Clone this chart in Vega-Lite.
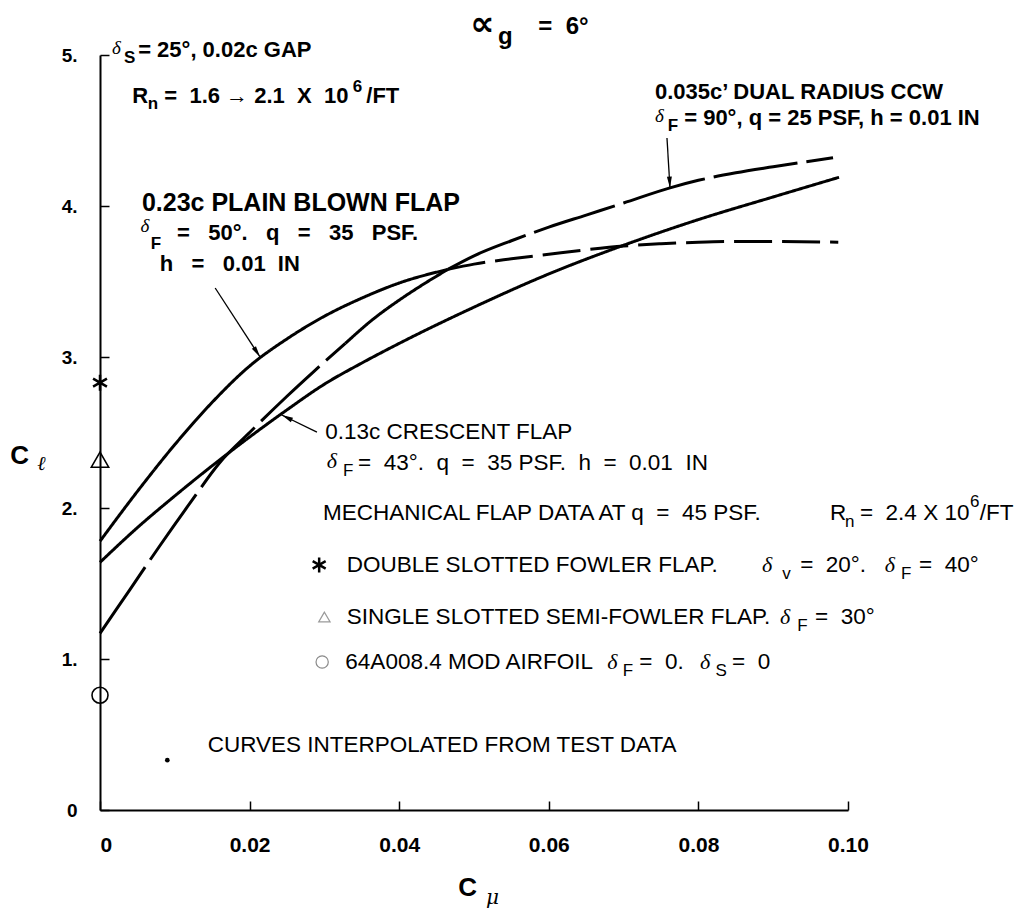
{
  "$schema": "https://vega.github.io/schema/vega-lite/v6.json",
  "width": 748,
  "height": 755,
  "autosize": "none",
  "padding": {"left": 100, "top": 55, "right": 177, "bottom": 99},
  "background": "white",
  "config": {"view": {"stroke": null}},
  "datasets": {
    "curves": [
      {"curve": "plain_solid", "cmu": 0, "cl": 1.78},
      {"curve": "plain_solid", "cmu": 0.005, "cl": 2.11},
      {"curve": "plain_solid", "cmu": 0.01, "cl": 2.42},
      {"curve": "plain_solid", "cmu": 0.015, "cl": 2.70},
      {"curve": "plain_solid", "cmu": 0.02, "cl": 2.94},
      {"curve": "plain_solid", "cmu": 0.025, "cl": 3.12},
      {"curve": "plain_solid", "cmu": 0.03, "cl": 3.27},
      {"curve": "plain_solid", "cmu": 0.035, "cl": 3.39},
      {"curve": "plain_solid", "cmu": 0.04, "cl": 3.49},
      {"curve": "plain_solid", "cmu": 0.0465, "cl": 3.58},
      {"curve": "plain_dash", "cmu": 0.0465, "cl": 3.58},
      {"curve": "plain_dash", "cmu": 0.05, "cl": 3.615},
      {"curve": "plain_dash", "cmu": 0.055, "cl": 3.65},
      {"curve": "plain_dash", "cmu": 0.06, "cl": 3.68},
      {"curve": "plain_dash", "cmu": 0.065, "cl": 3.71},
      {"curve": "plain_dash", "cmu": 0.07, "cl": 3.735},
      {"curve": "plain_dash", "cmu": 0.075, "cl": 3.75},
      {"curve": "plain_dash", "cmu": 0.08, "cl": 3.76},
      {"curve": "plain_dash", "cmu": 0.085, "cl": 3.765},
      {"curve": "plain_dash", "cmu": 0.09, "cl": 3.765},
      {"curve": "plain_dash", "cmu": 0.0987, "cl": 3.76},
      {"curve": "crescent", "cmu": 0, "cl": 1.64},
      {"curve": "crescent", "cmu": 0.005, "cl": 1.87},
      {"curve": "crescent", "cmu": 0.01, "cl": 2.08},
      {"curve": "crescent", "cmu": 0.015, "cl": 2.28},
      {"curve": "crescent", "cmu": 0.02, "cl": 2.47},
      {"curve": "crescent", "cmu": 0.025, "cl": 2.65},
      {"curve": "crescent", "cmu": 0.03, "cl": 2.82},
      {"curve": "crescent", "cmu": 0.035, "cl": 2.96},
      {"curve": "crescent", "cmu": 0.04, "cl": 3.09},
      {"curve": "crescent", "cmu": 0.05, "cl": 3.33},
      {"curve": "crescent", "cmu": 0.06, "cl": 3.55},
      {"curve": "crescent", "cmu": 0.07, "cl": 3.74},
      {"curve": "crescent", "cmu": 0.08, "cl": 3.91},
      {"curve": "crescent", "cmu": 0.09, "cl": 4.06},
      {"curve": "crescent", "cmu": 0.0988, "cl": 4.19},
      {"curve": "dual_low", "cmu": 0, "cl": 1.17},
      {"curve": "dual_low", "cmu": 0.004, "cl": 1.46},
      {"curve": "dual_low", "cmu": 0.008, "cl": 1.75},
      {"curve": "dual_low", "cmu": 0.012, "cl": 2.03},
      {"curve": "dual_low", "cmu": 0.016, "cl": 2.30},
      {"curve": "dual_low", "cmu": 0.02, "cl": 2.50},
      {"curve": "dual_low", "cmu": 0.025, "cl": 2.74},
      {"curve": "dual_low", "cmu": 0.0285, "cl": 2.90},
      {"curve": "dual_low", "cmu": 0.0328, "cl": 3.09},
      {"curve": "dual_mid", "cmu": 0.0328, "cl": 3.09},
      {"curve": "dual_mid", "cmu": 0.0365, "cl": 3.25},
      {"curve": "dual_mid", "cmu": 0.0401, "cl": 3.38},
      {"curve": "dual_mid", "cmu": 0.0435, "cl": 3.49},
      {"curve": "dual_mid", "cmu": 0.0465, "cl": 3.58},
      {"curve": "dual_high", "cmu": 0.0465, "cl": 3.58},
      {"curve": "dual_high", "cmu": 0.05, "cl": 3.67},
      {"curve": "dual_high", "cmu": 0.055, "cl": 3.77},
      {"curve": "dual_high", "cmu": 0.06, "cl": 3.86},
      {"curve": "dual_high", "cmu": 0.065, "cl": 3.94},
      {"curve": "dual_high", "cmu": 0.07, "cl": 4.02},
      {"curve": "dual_high", "cmu": 0.0762, "cl": 4.12},
      {"curve": "dual_high", "cmu": 0.08, "cl": 4.17},
      {"curve": "dual_high", "cmu": 0.085, "cl": 4.22},
      {"curve": "dual_high", "cmu": 0.09, "cl": 4.26},
      {"curve": "dual_high", "cmu": 0.098, "cl": 4.32}
    ],
    "markers": [
      {"kind": "double_slotted", "cmu": 0, "cl": 2.83},
      {"kind": "single_slotted", "cmu": 0, "cl": 2.32},
      {"kind": "airfoil", "cmu": 0, "cl": 0.76},
      {"kind": "key_double", "cmu": 0.0293, "cl": 1.623},
      {"kind": "key_single", "cmu": 0.0300, "cl": 1.278},
      {"kind": "key_airfoil", "cmu": 0.0297, "cl": 0.98},
      {"kind": "key_interp", "cmu": 0.009, "cl": 0.33}
    ],
    "pointers": [
      {"id": "blown", "seq": 1, "cmu": 0.0154, "cl": 3.457},
      {"id": "blown", "seq": 2, "cmu": 0.0214, "cl": 3.0},
      {"id": "crescent", "seq": 1, "cmu": 0.029, "cl": 2.503},
      {"id": "crescent", "seq": 2, "cmu": 0.0243, "cl": 2.616},
      {"id": "dual", "seq": 1, "cmu": 0.0758, "cl": 4.45},
      {"id": "dual", "seq": 2, "cmu": 0.0762, "cl": 4.119}
    ],
    "labels": [
      {"role": "title", "cmu": 0.0495, "cl": 5.199, "text": "∝"},
      {"role": "title_sub", "cmu": 0.0532, "cl": 5.12, "text": "g"},
      {"role": "title_sub", "cmu": 0.0586, "cl": 5.185, "text": "=\u00a0\u00a06°"},
      {"role": "greek_head", "cmu": 0.0016, "cl": 5.046, "text": "δ"},
      {"role": "head_sub", "cmu": 0.0032, "cl": 4.98, "text": "S"},
      {"role": "head", "cmu": 0.0051, "cl": 5.033, "text": "= 25°, 0.02c GAP"},
      {"role": "head", "cmu": 0.0043, "cl": 4.728, "text": "R"},
      {"role": "head_sub", "cmu": 0.0064, "cl": 4.675, "text": "n"},
      {"role": "head", "cmu": 0.0086, "cl": 4.728, "text": "=\u00a0\u00a01.6\u00a0→\u00a02.1\u00a0\u00a0X\u00a0\u00a010"},
      {"role": "head_sub", "cmu": 0.0338, "cl": 4.79, "text": "6"},
      {"role": "head", "cmu": 0.0356, "cl": 4.728, "text": "/FT"},
      {"role": "head_dual", "cmu": 0.0742, "cl": 4.755, "text": "0.035c’ DUAL RADIUS CCW"},
      {"role": "greek_head", "cmu": 0.0742, "cl": 4.596, "text": "δ"},
      {"role": "head_sub", "cmu": 0.0759, "cl": 4.53, "text": "F"},
      {"role": "head_dual", "cmu": 0.0781, "cl": 4.583, "text": "= 90°, q = 25 PSF, h = 0.01 IN"},
      {"role": "head_big", "cmu": 0.0056, "cl": 4.02, "text": "0.23c PLAIN BLOWN FLAP"},
      {"role": "greek_head", "cmu": 0.0054, "cl": 3.868, "text": "δ"},
      {"role": "head_sub", "cmu": 0.0068, "cl": 3.748, "text": "F"},
      {"role": "head_blown", "cmu": 0.0103, "cl": 3.821, "text": "=\u00a0\u00a0\u00a050°.\u00a0\u00a0\u00a0q\u00a0\u00a0\u00a0=\u00a0\u00a0\u00a035\u00a0\u00a0\u00a0PSF."},
      {"role": "head_blown", "cmu": 0.008, "cl": 3.616, "text": "h\u00a0\u00a0\u00a0=\u00a0\u00a0\u00a00.01\u00a0\u00a0IN"},
      {"role": "body", "cmu": 0.0301, "cl": 2.503, "text": "0.13c CRESCENT FLAP"},
      {"role": "greek", "cmu": 0.0303, "cl": 2.311, "text": "δ"},
      {"role": "body_sub", "cmu": 0.0325, "cl": 2.245, "text": "F"},
      {"role": "body", "cmu": 0.0345, "cl": 2.298, "text": "=\u00a0\u00a043°.\u00a0\u00a0q\u00a0\u00a0=\u00a0\u00a035 PSF.\u00a0\u00a0h\u00a0\u00a0=\u00a0\u00a00.01\u00a0\u00a0IN"},
      {"role": "body", "cmu": 0.0298, "cl": 1.967, "text": "MECHANICAL FLAP DATA AT q\u00a0\u00a0=\u00a0\u00a045 PSF."},
      {"role": "body", "cmu": 0.0976, "cl": 1.967, "text": "R"},
      {"role": "body_sub", "cmu": 0.0996, "cl": 1.907, "text": "n"},
      {"role": "body", "cmu": 0.1016, "cl": 1.967, "text": "=\u00a0\u00a02.4 X 10"},
      {"role": "body_sub", "cmu": 0.1163, "cl": 2.04, "text": "6"},
      {"role": "body", "cmu": 0.1176, "cl": 1.967, "text": "/FT"},
      {"role": "body", "cmu": 0.033, "cl": 1.623, "text": "DOUBLE SLOTTED FOWLER FLAP."},
      {"role": "greek", "cmu": 0.0885, "cl": 1.623, "text": "δ"},
      {"role": "body_sub", "cmu": 0.0912, "cl": 1.563, "text": "v"},
      {"role": "body", "cmu": 0.0936, "cl": 1.623, "text": "=\u00a0\u00a020°."},
      {"role": "greek", "cmu": 0.1049, "cl": 1.623, "text": "δ"},
      {"role": "body_sub", "cmu": 0.1071, "cl": 1.563, "text": "F"},
      {"role": "body", "cmu": 0.1095, "cl": 1.623, "text": "=\u00a0\u00a040°"},
      {"role": "body", "cmu": 0.033, "cl": 1.278, "text": "SINGLE SLOTTED SEMI-FOWLER FLAP."},
      {"role": "greek", "cmu": 0.0909, "cl": 1.278, "text": "δ"},
      {"role": "body_sub", "cmu": 0.0932, "cl": 1.219, "text": "F"},
      {"role": "body", "cmu": 0.0956, "cl": 1.278, "text": "=\u00a0\u00a030°"},
      {"role": "body", "cmu": 0.0328, "cl": 0.98, "text": "64A008.4 MOD AIRFOIL"},
      {"role": "greek", "cmu": 0.0678, "cl": 0.98, "text": "δ"},
      {"role": "body_sub", "cmu": 0.0699, "cl": 0.921, "text": "F"},
      {"role": "body", "cmu": 0.0721, "cl": 0.98, "text": "=\u00a0\u00a00."},
      {"role": "greek", "cmu": 0.0802, "cl": 0.98, "text": "δ"},
      {"role": "body_sub", "cmu": 0.0823, "cl": 0.921, "text": "S"},
      {"role": "body", "cmu": 0.0845, "cl": 0.98, "text": "=\u00a0\u00a00"},
      {"role": "body", "cmu": 0.0144, "cl": 0.43, "text": "CURVES INTERPOLATED FROM TEST DATA"},
      {"role": "axis_big", "cmu": -0.012, "cl": 2.344, "text": "C"},
      {"role": "axis_sub", "cmu": -0.0084, "cl": 2.291, "text": "ℓ"},
      {"role": "axis_big", "cmu": 0.0479, "cl": -0.517, "text": "C"},
      {"role": "axis_sub", "cmu": 0.0516, "cl": -0.585, "text": "μ"}
    ]
  },
  "layer": [
    {
      "data": {"name": "curves"},
      "mark": {"type": "line", "color": "black", "strokeWidth": 3, "interpolate": "monotone", "strokeCap": "butt"},
      "encoding": {
        "x": {"field": "cmu", "type": "quantitative",
          "scale": {"domain": [0, 0.1], "nice": false, "zero": false},
          "axis": {"values": [0, 0.02, 0.04, 0.06, 0.08, 0.1], "title": null, "grid": false,
            "tickSize": -9, "tickColor": "black", "tickWidth": 1.5,
            "domainColor": "black", "domainWidth": 2, "labelPadding": 33,
            "labelFont": "Liberation Sans", "labelFontWeight": "bold", "labelFontSize": 21, "labelColor": "black",
            "labelFlush": false, "labelOverlap": false,
            "labelAlign": {"condition": {"test": "datum.value == 0", "value": "left"}, "value": "center"},
            "labelExpr": "datum.value == 0 ? '0' : format(datum.value, '.2f')"}},
        "y": {"field": "cl", "type": "quantitative",
          "scale": {"domain": [0, 5], "nice": false, "zero": false},
          "axis": {"values": [0, 1, 2, 3, 4, 5], "title": null, "grid": false,
            "tickSize": -9, "tickColor": "black", "tickWidth": 1.5,
            "domainColor": "black", "domainWidth": 2, "labelPadding": 32,
            "labelFont": "Liberation Sans", "labelFontWeight": "bold", "labelFontSize": 19, "labelColor": "black",
            "labelOverlap": false,
            "labelExpr": "datum.value == 0 ? '0' : datum.value + '.'"}},
        "detail": {"field": "curve"},
        "order": {"field": "cmu", "type": "quantitative"},
        "strokeDash": {"field": "curve", "type": "nominal", "legend": null,
          "scale": {"domain": ["plain_solid", "plain_dash", "crescent", "dual_low", "dual_mid", "dual_high"],
                    "range": [[1, 0], [38, 10], [1, 0], [80, 9], [1, 0], [85, 9]]}}
      }
    },
    {
      "data": {"name": "pointers"},
      "mark": {"type": "line", "color": "black", "strokeWidth": 1.3},
      "encoding": {
        "x": {"field": "cmu", "type": "quantitative"},
        "y": {"field": "cl", "type": "quantitative"},
        "detail": {"field": "id"},
        "order": {"field": "seq", "type": "quantitative"}
      }
    },
    {
      "data": {"name": "pointers"},
      "transform": [{"filter": "datum.id == 'blown' && datum.seq == 2"}],
      "mark": {"type": "point", "shape": "M0,0L0.35,1.6L-0.35,1.6Z", "filled": true, "color": "black", "size": 200, "angle": 147, "opacity": 1},
      "encoding": {"x": {"field": "cmu", "type": "quantitative"}, "y": {"field": "cl", "type": "quantitative"}}
    },
    {
      "data": {"name": "pointers"},
      "transform": [{"filter": "datum.id == 'crescent' && datum.seq == 2"}],
      "mark": {"type": "point", "shape": "M0,0L0.35,1.6L-0.35,1.6Z", "filled": true, "color": "black", "size": 200, "angle": 296, "opacity": 1},
      "encoding": {"x": {"field": "cmu", "type": "quantitative"}, "y": {"field": "cl", "type": "quantitative"}}
    },
    {
      "data": {"name": "pointers"},
      "transform": [{"filter": "datum.id == 'dual' && datum.seq == 2"}],
      "mark": {"type": "point", "shape": "M0,0L0.35,1.6L-0.35,1.6Z", "filled": true, "color": "black", "size": 200, "angle": 177, "opacity": 1},
      "encoding": {"x": {"field": "cmu", "type": "quantitative"}, "y": {"field": "cl", "type": "quantitative"}}
    },
    {
      "data": {"name": "markers"},
      "transform": [{"filter": "datum.kind == 'double_slotted'"}],
      "mark": {"type": "point", "shape": "M0,-1L0,1M-0.866,-0.5L0.866,0.5M-0.866,0.5L0.866,-0.5", "filled": false, "color": "black", "strokeWidth": 2.5, "size": 256, "opacity": 1},
      "encoding": {"x": {"field": "cmu", "type": "quantitative"}, "y": {"field": "cl", "type": "quantitative"}}
    },
    {
      "data": {"name": "markers"},
      "transform": [{"filter": "datum.kind == 'key_double'"}],
      "mark": {"type": "point", "shape": "M0,-1L0,1M-0.866,-0.5L0.866,0.5M-0.866,0.5L0.866,-0.5", "filled": false, "color": "black", "strokeWidth": 2.5, "size": 225, "opacity": 1},
      "encoding": {"x": {"field": "cmu", "type": "quantitative"}, "y": {"field": "cl", "type": "quantitative"}}
    },
    {
      "data": {"name": "markers"},
      "transform": [{"filter": "datum.kind == 'single_slotted'"}],
      "mark": {"type": "point", "shape": "triangle-up", "filled": false, "color": "black", "strokeWidth": 1.6, "size": 300, "opacity": 1},
      "encoding": {"x": {"field": "cmu", "type": "quantitative"}, "y": {"field": "cl", "type": "quantitative"}}
    },
    {
      "data": {"name": "markers"},
      "transform": [{"filter": "datum.kind == 'key_single'"}],
      "mark": {"type": "point", "shape": "triangle-up", "filled": false, "color": "#9a9a9a", "strokeWidth": 1.2, "size": 130, "opacity": 1},
      "encoding": {"x": {"field": "cmu", "type": "quantitative"}, "y": {"field": "cl", "type": "quantitative"}}
    },
    {
      "data": {"name": "markers"},
      "transform": [{"filter": "datum.kind == 'airfoil'"}],
      "mark": {"type": "point", "shape": "circle", "filled": false, "color": "black", "strokeWidth": 1.6, "size": 256, "opacity": 1},
      "encoding": {"x": {"field": "cmu", "type": "quantitative"}, "y": {"field": "cl", "type": "quantitative"}}
    },
    {
      "data": {"name": "markers"},
      "transform": [{"filter": "datum.kind == 'key_airfoil'"}],
      "mark": {"type": "point", "shape": "circle", "filled": false, "color": "#8a8a8a", "strokeWidth": 1.2, "size": 150, "opacity": 1},
      "encoding": {"x": {"field": "cmu", "type": "quantitative"}, "y": {"field": "cl", "type": "quantitative"}}
    },
    {
      "data": {"name": "markers"},
      "transform": [{"filter": "datum.kind == 'key_interp'"}],
      "mark": {"type": "point", "shape": "circle", "filled": true, "color": "black", "size": 22, "opacity": 1},
      "encoding": {"x": {"field": "cmu", "type": "quantitative"}, "y": {"field": "cl", "type": "quantitative"}}
    },
    {
      "data": {"name": "labels"},
      "transform": [{"filter": "datum.role == 'title'"}],
      "mark": {"type": "text", "align": "left", "baseline": "middle", "font": "DejaVu Sans", "fontWeight": "bold", "fontSize": 34, "color": "black"},
      "encoding": {"x": {"field": "cmu", "type": "quantitative"}, "y": {"field": "cl", "type": "quantitative"}, "text": {"field": "text"}}
    },
    {
      "data": {"name": "labels"},
      "transform": [{"filter": "datum.role == 'title_sub'"}],
      "mark": {"type": "text", "align": "left", "baseline": "middle", "font": "Liberation Sans", "fontWeight": "bold", "fontSize": 24, "color": "black"},
      "encoding": {"x": {"field": "cmu", "type": "quantitative"}, "y": {"field": "cl", "type": "quantitative"}, "text": {"field": "text"}}
    },
    {
      "data": {"name": "labels"},
      "transform": [{"filter": "datum.role == 'head_big'"}],
      "mark": {"type": "text", "align": "left", "baseline": "middle", "font": "Liberation Sans", "fontWeight": "bold", "fontSize": 25, "color": "black"},
      "encoding": {"x": {"field": "cmu", "type": "quantitative"}, "y": {"field": "cl", "type": "quantitative"}, "text": {"field": "text"}}
    },
    {
      "data": {"name": "labels"},
      "transform": [{"filter": "datum.role == 'head_dual'"}],
      "mark": {"type": "text", "align": "left", "baseline": "middle", "font": "Liberation Sans", "fontWeight": "bold", "fontSize": 22, "color": "black"},
      "encoding": {"x": {"field": "cmu", "type": "quantitative"}, "y": {"field": "cl", "type": "quantitative"}, "text": {"field": "text"}}
    },
    {
      "data": {"name": "labels"},
      "transform": [{"filter": "datum.role == 'head_blown'"}],
      "mark": {"type": "text", "align": "left", "baseline": "middle", "font": "Liberation Sans", "fontWeight": "bold", "fontSize": 22, "color": "black"},
      "encoding": {"x": {"field": "cmu", "type": "quantitative"}, "y": {"field": "cl", "type": "quantitative"}, "text": {"field": "text"}}
    },
    {
      "data": {"name": "labels"},
      "transform": [{"filter": "datum.role == 'head'"}],
      "mark": {"type": "text", "align": "left", "baseline": "middle", "font": "Liberation Sans", "fontWeight": "bold", "fontSize": 22, "color": "black"},
      "encoding": {"x": {"field": "cmu", "type": "quantitative"}, "y": {"field": "cl", "type": "quantitative"}, "text": {"field": "text"}}
    },
    {
      "data": {"name": "labels"},
      "transform": [{"filter": "datum.role == 'head_sub'"}],
      "mark": {"type": "text", "align": "left", "baseline": "middle", "font": "Liberation Sans", "fontWeight": "bold", "fontSize": 17, "color": "black"},
      "encoding": {"x": {"field": "cmu", "type": "quantitative"}, "y": {"field": "cl", "type": "quantitative"}, "text": {"field": "text"}}
    },
    {
      "data": {"name": "labels"},
      "transform": [{"filter": "datum.role == 'greek_head'"}],
      "mark": {"type": "text", "align": "left", "baseline": "middle", "font": "Liberation Serif", "fontStyle": "italic", "fontSize": 19, "color": "black"},
      "encoding": {"x": {"field": "cmu", "type": "quantitative"}, "y": {"field": "cl", "type": "quantitative"}, "text": {"field": "text"}}
    },
    {
      "data": {"name": "labels"},
      "transform": [{"filter": "datum.role == 'greek'"}],
      "mark": {"type": "text", "align": "left", "baseline": "middle", "font": "Liberation Serif", "fontStyle": "italic", "fontSize": 22, "color": "black"},
      "encoding": {"x": {"field": "cmu", "type": "quantitative"}, "y": {"field": "cl", "type": "quantitative"}, "text": {"field": "text"}}
    },
    {
      "data": {"name": "labels"},
      "transform": [{"filter": "datum.role == 'body'"}],
      "mark": {"type": "text", "align": "left", "baseline": "middle", "font": "Liberation Sans", "fontSize": 22.5, "color": "black"},
      "encoding": {"x": {"field": "cmu", "type": "quantitative"}, "y": {"field": "cl", "type": "quantitative"}, "text": {"field": "text"}}
    },
    {
      "data": {"name": "labels"},
      "transform": [{"filter": "datum.role == 'body_sub'"}],
      "mark": {"type": "text", "align": "left", "baseline": "middle", "font": "Liberation Sans", "fontSize": 17, "color": "black"},
      "encoding": {"x": {"field": "cmu", "type": "quantitative"}, "y": {"field": "cl", "type": "quantitative"}, "text": {"field": "text"}}
    },
    {
      "data": {"name": "labels"},
      "transform": [{"filter": "datum.role == 'axis_big'"}],
      "mark": {"type": "text", "align": "left", "baseline": "middle", "font": "Liberation Sans", "fontWeight": "bold", "fontSize": 26, "color": "black"},
      "encoding": {"x": {"field": "cmu", "type": "quantitative"}, "y": {"field": "cl", "type": "quantitative"}, "text": {"field": "text"}}
    },
    {
      "data": {"name": "labels"},
      "transform": [{"filter": "datum.role == 'axis_sub'"}],
      "mark": {"type": "text", "align": "left", "baseline": "middle", "font": "DejaVu Serif", "fontStyle": "italic", "fontSize": 20, "color": "black"},
      "encoding": {"x": {"field": "cmu", "type": "quantitative"}, "y": {"field": "cl", "type": "quantitative"}, "text": {"field": "text"}}
    }
  ]
}
